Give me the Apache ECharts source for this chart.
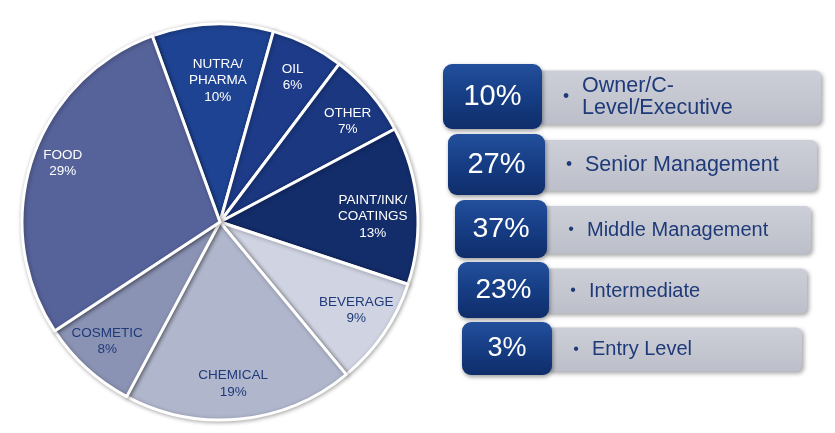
<!DOCTYPE html>
<html>
<head>
<meta charset="utf-8">
<script src="https://cdn.jsdelivr.net/npm/echarts@6/dist/echarts.min.js"></script>
<style>
html,body{margin:0;padding:0;background:#fff;}
#main{width:835px;height:433px;}
</style>
</head>
<body>
<div id="main"></div>
<script>
// ---- data ----
const sectors = ['NUTRA/\nPHARMA', 'OIL', 'OTHER', 'PAINT/INK/\nCOATINGS', 'BEVERAGE', 'CHEMICAL', 'COSMETIC', 'FOOD'];
const sectorShare = [10, 6, 7, 13, 9, 19, 8, 29];
const roles = ['Owner/C-\nLevel/Executive', 'Senior Management', 'Middle Management', 'Intermediate', 'Entry Level'];
const roleShare = [10, 27, 37, 23, 3];

// ---- styles ----
const sliceColors = ['#1f4393', '#1d3b88', '#1a377f', '#132c6a', '#d0d4e2', '#b0b6cc', '#8b93b5', '#56629a'];
const sliceLabelColors = ['#ffffff', '#ffffff', '#ffffff', '#ffffff', '#1f3a7a', '#1f3a7a', '#1f3a7a', '#ffffff'];
const sliceLabelNudge = [[4, 20], [1, 0], [5, 4], [-8, 8], [3, -3], [-3, 1], [-4, 0], [-4, -8]];
const FONT = '"Liberation Sans", Arial, sans-serif';
const R = 198;
// right panel row geometry (style)
const darkLeftOff = [3, 8, 15, 18, 22];
const darkW = [99, 97, 92, 91, 90];
const darkH = [65, 61, 58, 56, 53];
const grayRightOff = [381, 377, 371, 367, 362];
const grayH = [54, 51, 48, 45, 44];
const rowNudge = [-3.3, 1.7, 3.2, 1.2, -3.3];
const pctFont = [29, 29, 28.5, 28, 27];
const roleFont = [21.5, 21.5, 20, 20, 20];

const chart = echarts.init(document.getElementById('main'), null, {renderer: 'canvas'});

const pieData = sectors.map((n, i) => ({
  name: n, value: sectorShare[i],
  itemStyle: {color: sliceColors[i]}
}));
const labelData = sectors.map((n, i) => ({
  name: n, value: sectorShare[i],
  label: {color: sliceLabelColors[i], offset: sliceLabelNudge[i]}
}));

function renderRow(params, api) {
  const i = params.dataIndex;
  const cs = params.coordSys;
  const cy = api.coord([0, i])[1] + rowNudge[i];
  const dx = cs.x + darkLeftOff[i];
  const dw = darkW[i], dh = darkH[i];
  const gx = dx + dw - 6;
  const gr = cs.x + grayRightOff[i];
  const gh = grayH[i];
  const gcy = cy + 1;
  const pct = api.value(1);
  return {
    type: 'group',
    children: [
      {
        type: 'rect',
        shape: {x: gx, y: gcy - gh / 2, width: gr - gx, height: gh, r: 6},
        style: {
          fill: new echarts.graphic.LinearGradient(0, 0, 0, 1, [
            {offset: 0, color: '#cdcfd8'},
            {offset: 1, color: '#bcbec9'}
          ]),
          shadowBlur: 4, shadowOffsetX: 2, shadowOffsetY: 2, shadowColor: 'rgba(0,0,0,0.35)'
        }
      },
      {
        type: 'rect',
        shape: {x: dx, y: cy - dh / 2, width: dw, height: dh, r: 9},
        style: {
          fill: new echarts.graphic.LinearGradient(0, 0, 0, 1, [
            {offset: 0, color: '#234f9c'},
            {offset: 0.5, color: '#163d84'},
            {offset: 1, color: '#0f2d6a'}
          ]),
          shadowBlur: 4, shadowOffsetX: 1, shadowOffsetY: 2, shadowColor: 'rgba(0,0,0,0.4)'
        }
      },
      {
        type: 'text',
        style: {
          x: dx + dw / 2, y: cy, text: pct + '%',
          fill: '#ffffff', font: pctFont[i] + 'px ' + FONT,
          align: 'center', verticalAlign: 'middle'
        }
      },
      {
        type: 'text',
        style: {
          x: dx + dw + 24, y: gcy, text: '•',
          fill: '#1f3a78', font: (roleFont[i] - 4) + 'px ' + FONT,
          align: 'center', verticalAlign: 'middle'
        }
      },
      {
        type: 'text',
        style: {
          x: dx + dw + 40, y: gcy, text: roles[i],
          fill: '#1f3a78', font: roleFont[i] + 'px ' + FONT,
          lineHeight: 22,
          align: 'left', verticalAlign: 'middle'
        }
      }
    ]
  };
}

const option = {
  backgroundColor: '#ffffff',
  animation: false,
  grid: {left: 440, top: 68.3, width: 385, height: 315},
  xAxis: {type: 'value', min: 0, max: 100, show: false},
  yAxis: {type: 'category', data: roles, inverse: true, show: false},
  series: [
    {
      type: 'pie',
      center: [220, 222],
      radius: [0, R],
      startAngle: 110,
      clockwise: true,
      silent: true,
      label: {show: false},
      labelLine: {show: false},
      itemStyle: {
        borderColor: '#ffffff', borderWidth: 3,
        shadowBlur: 4, shadowColor: 'rgba(0,0,0,0.3)', shadowOffsetX: 1, shadowOffsetY: 1
      },
      data: pieData
    },
    {
      type: 'pie',
      center: [220, 222],
      radius: [0.6 * R, R],
      startAngle: 110,
      clockwise: true,
      silent: true,
      itemStyle: {color: 'rgba(0,0,0,0)', borderWidth: 0},
      label: {
        show: true, position: 'inside',
        formatter: '{b}\n{c}%',
        fontFamily: FONT, fontSize: 13.5, lineHeight: 16.5, align: 'center'
      },
      labelLine: {show: false},
      data: labelData
    },
    {
      type: 'custom',
      coordinateSystem: 'cartesian2d',
      silent: true,
      renderItem: renderRow,
      data: roleShare.map((v, i) => [i, v])
    }
  ]
};
chart.setOption(option);
</script>
</body>
</html>
